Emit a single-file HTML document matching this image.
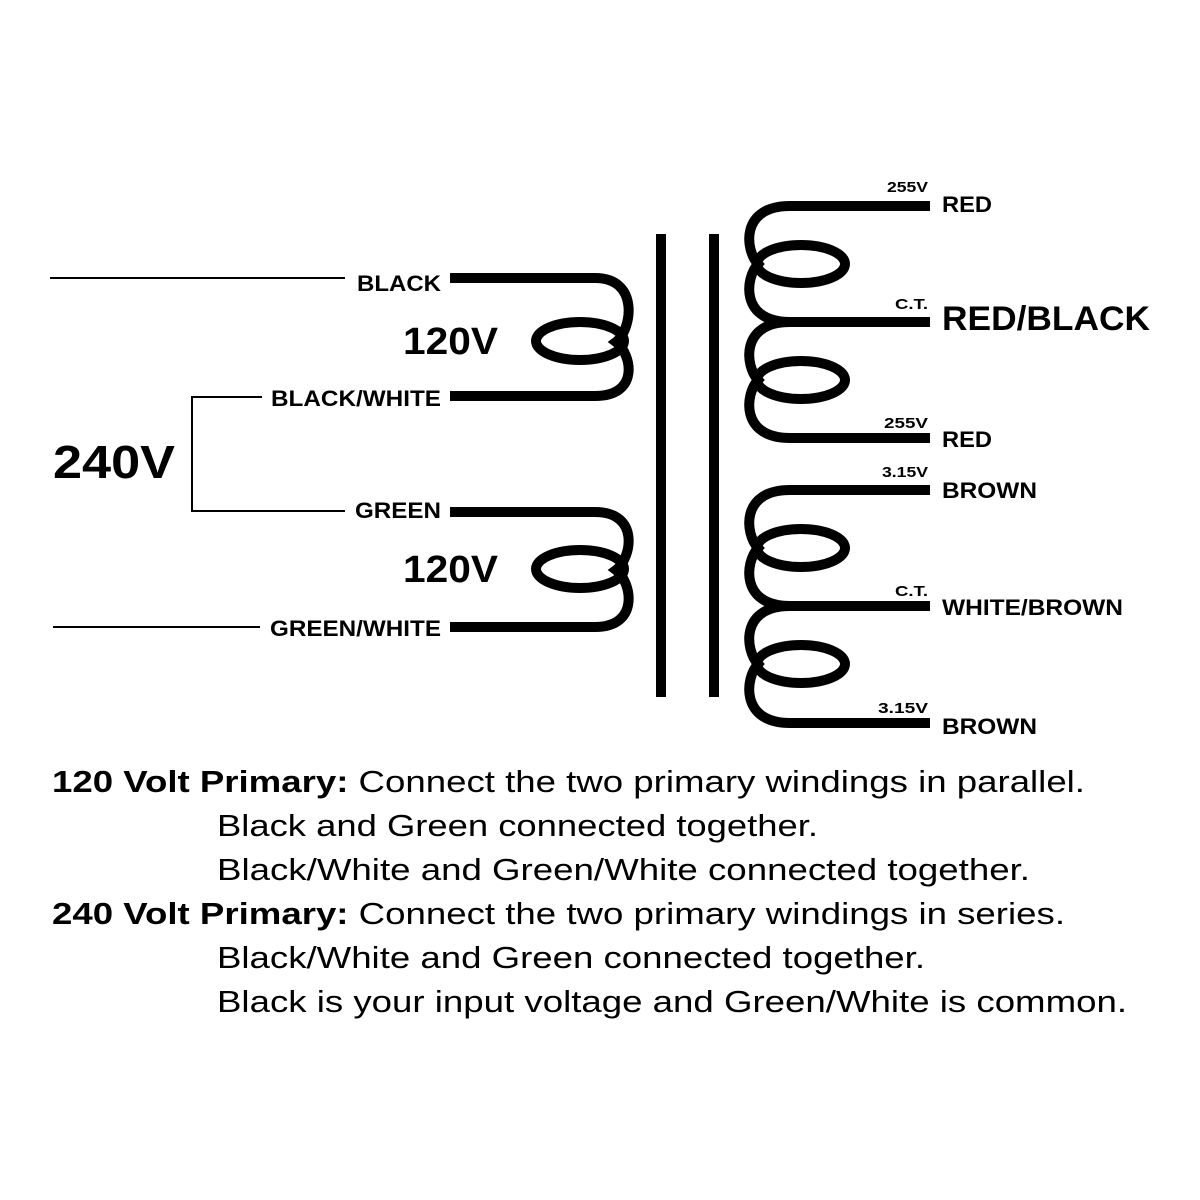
<!DOCTYPE html>
<html><head><style>body{margin:0;background:#fff}svg{display:block}</style></head><body>
<svg width="1200" height="1200" viewBox="0 0 1200 1200" xmlns="http://www.w3.org/2000/svg" font-family="Liberation Sans, Arial, sans-serif">
<rect width="1200" height="1200" fill="#fff"/>
<g stroke="#000" stroke-width="2" fill="none">
<path d="M50 278H345"/>
<path d="M262 397H192V511H345"/>
<path d="M53 627H260"/>
</g>
<g stroke="#000" stroke-width="10" fill="none">
<path d="M450 278H595C640 278 632 330 616 342C632 354 640 396 595 396H450"/>
<ellipse cx="580" cy="341" rx="44" ry="19"/>
<path d="M450 512H595C640 512 632 558 616 570C632 582 640 627 595 627H450"/>
<ellipse cx="580" cy="569" rx="44" ry="19"/>
<path d="M661 234V697M714 234V697"/>
<path d="M930 206H790C740 206 745 250 758 264C745 278 740 322 790 322H930"/>
<path d="M790 322C740 322 745 366 758 380C745 394 740 438 790 438H930"/>
<ellipse cx="801" cy="264" rx="44" ry="19"/>
<ellipse cx="801" cy="380" rx="44" ry="19"/>
<path d="M930 490H790C740 490 745 534 758 548C745 562 740 606 790 606H930"/>
<path d="M790 606C740 606 745 650 758 664C745 678 740 723 790 723H930"/>
<ellipse cx="801" cy="548" rx="44" ry="19"/>
<ellipse cx="801" cy="664" rx="44" ry="19"/>
</g>
<g font-weight="bold" fill="#000" lengthAdjust="spacingAndGlyphs">
<text x="357" y="291" font-size="22" textLength="84" lengthAdjust="spacingAndGlyphs">BLACK</text>
<text x="271" y="406" font-size="22" textLength="170" lengthAdjust="spacingAndGlyphs">BLACK/WHITE</text>
<text x="355" y="518" font-size="22" textLength="86" lengthAdjust="spacingAndGlyphs">GREEN</text>
<text x="270" y="636" font-size="22" textLength="171" lengthAdjust="spacingAndGlyphs">GREEN/WHITE</text>
<text x="403" y="354" font-size="38" textLength="95" lengthAdjust="spacingAndGlyphs">120V</text>
<text x="403" y="582" font-size="38" textLength="95" lengthAdjust="spacingAndGlyphs">120V</text>
<text x="53" y="478" font-size="46" textLength="122" lengthAdjust="spacingAndGlyphs">240V</text>
<text x="887" y="192" font-size="15" textLength="41" lengthAdjust="spacingAndGlyphs">255V</text>
<text x="895" y="309" font-size="15" textLength="33" lengthAdjust="spacingAndGlyphs">C.T.</text>
<text x="884" y="428" font-size="15" textLength="44" lengthAdjust="spacingAndGlyphs">255V</text>
<text x="882" y="477" font-size="15" textLength="46" lengthAdjust="spacingAndGlyphs">3.15V</text>
<text x="895" y="596" font-size="15" textLength="33" lengthAdjust="spacingAndGlyphs">C.T.</text>
<text x="878" y="713" font-size="15" textLength="50" lengthAdjust="spacingAndGlyphs">3.15V</text>
<text x="942" y="212" font-size="22" textLength="50" lengthAdjust="spacingAndGlyphs">RED</text>
<text x="942" y="330" font-size="34" textLength="208" lengthAdjust="spacingAndGlyphs">RED/BLACK</text>
<text x="942" y="447" font-size="22" textLength="50" lengthAdjust="spacingAndGlyphs">RED</text>
<text x="942" y="498" font-size="22" textLength="95" lengthAdjust="spacingAndGlyphs">BROWN</text>
<text x="942" y="615" font-size="22" textLength="181" lengthAdjust="spacingAndGlyphs">WHITE/BROWN</text>
<text x="942" y="734" font-size="22" textLength="95" lengthAdjust="spacingAndGlyphs">BROWN</text>
</g>
<g font-size="31" fill="#000">
<text x="52" y="792" textLength="1033" lengthAdjust="spacingAndGlyphs"><tspan font-weight="bold">120 Volt Primary:</tspan> Connect the two primary windings in parallel.</text>
<text x="217" y="836" textLength="601" lengthAdjust="spacingAndGlyphs">Black and Green connected together.</text>
<text x="217" y="880" textLength="813" lengthAdjust="spacingAndGlyphs">Black/White and Green/White connected together.</text>
<text x="52" y="924" textLength="1013" lengthAdjust="spacingAndGlyphs"><tspan font-weight="bold">240 Volt Primary:</tspan> Connect the two primary windings in series.</text>
<text x="217" y="968" textLength="708" lengthAdjust="spacingAndGlyphs">Black/White and Green connected together.</text>
<text x="217" y="1012" textLength="910" lengthAdjust="spacingAndGlyphs">Black is your input voltage and Green/White is common.</text>
</g>
</svg>
</body></html>
